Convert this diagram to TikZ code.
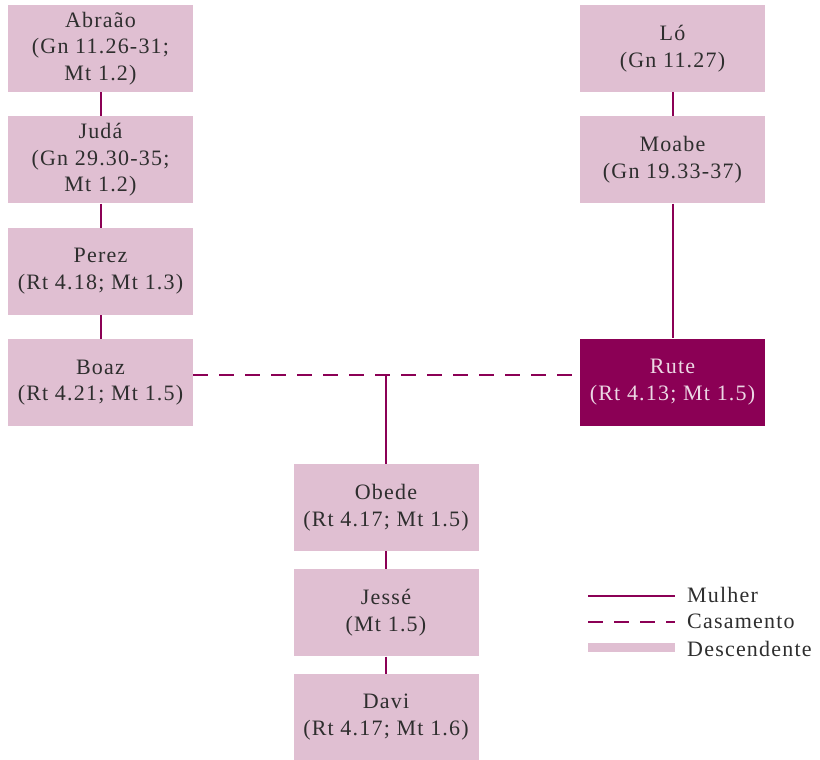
\documentclass[tikz,border=0pt]{standalone}
\usepackage{fontspec}
\setmainfont{Liberation Serif}[LetterSpace=5.5]
\usepackage{tikz}
\usetikzlibrary{positioning}
\definecolor{vinho}{HTML}{8B0055}
\definecolor{rosa}{HTML}{E0BFD2}
\definecolor{texto}{HTML}{2E2E2E}
\begin{document}
\begin{tikzpicture}[x=1pt, y=-1pt, node distance=24pt,
  box/.style={fill=rosa, text=texto, minimum width=185pt, minimum height=87pt, align=center, inner sep=0pt},
  mulher/.style={draw=vinho, line width=2pt},
  casamento/.style={mulher, dash pattern=on 15pt off 11pt},
  rotulo/.style={text=texto, inner sep=0pt, anchor=west},
  font=\fontsize{22}{26.5}\selectfont]
\useasboundingbox (0,0) rectangle (820,760);
% linhagem de Judá
\node[box] (abraao) at (100.5,48.5) {Abraão\\(Gn 11.26-31;\\Mt 1.2)};
\node[box, below=of abraao] (juda) {Judá\\(Gn 29.30-35;\\Mt 1.2)};
\node[box, below=of juda] (perez) {Perez\\(Rt 4.18; Mt 1.3)};
\node[box, below=of perez] (boaz) {Boaz\\(Rt 4.21; Mt 1.5)};
% linhagem de Moabe
\node[box] (lo) at (672.5,48.5) {Ló\\(Gn 11.27)};
\node[box, below=of lo] (moabe) {Moabe\\(Gn 19.33-37)};
\node[box, fill=vinho, text=rosa!60!white] (rute) at (672.5,382) {Rute\\(Rt 4.13; Mt 1.5)};
% descendentes
\node[box] (obede) at (386,507.5) {Obede\\(Rt 4.17; Mt 1.5)};
\node[box, below=18pt of obede] (jesse) {Jessé\\(Mt 1.5)};
\node[box, below=17pt of jesse] (davi) {Davi\\(Rt 4.17; Mt 1.6)};
\draw[mulher] (abraao) -- (juda) -- (perez) -- (boaz);
\draw[mulher] (lo) -- (moabe) -- (rute);
\coordinate (bz) at ([yshift=8pt]boaz.east);
\draw[casamento] (bz) -- (bz -| rute.west);
\draw[mulher] (obede.north |- bz) -- (obede) -- (jesse) -- (davi);
% legenda
\coordinate (leg) at (588,596);
\draw[mulher] (leg) -- ++(87,0);
\draw[casamento] ([yshift=-26pt]leg) -- ++(87,0);
\draw[draw=rosa, line width=9pt] ([yshift=-51pt]leg) -- ++(87,0);
\node[rotulo] (l1) at (687,595) {Mulher};
\node[rotulo] (l2) at (687,621) {Casamento};
\node[rotulo] (l3) at (687,649) {Descendente};
\end{tikzpicture}
\end{document}
